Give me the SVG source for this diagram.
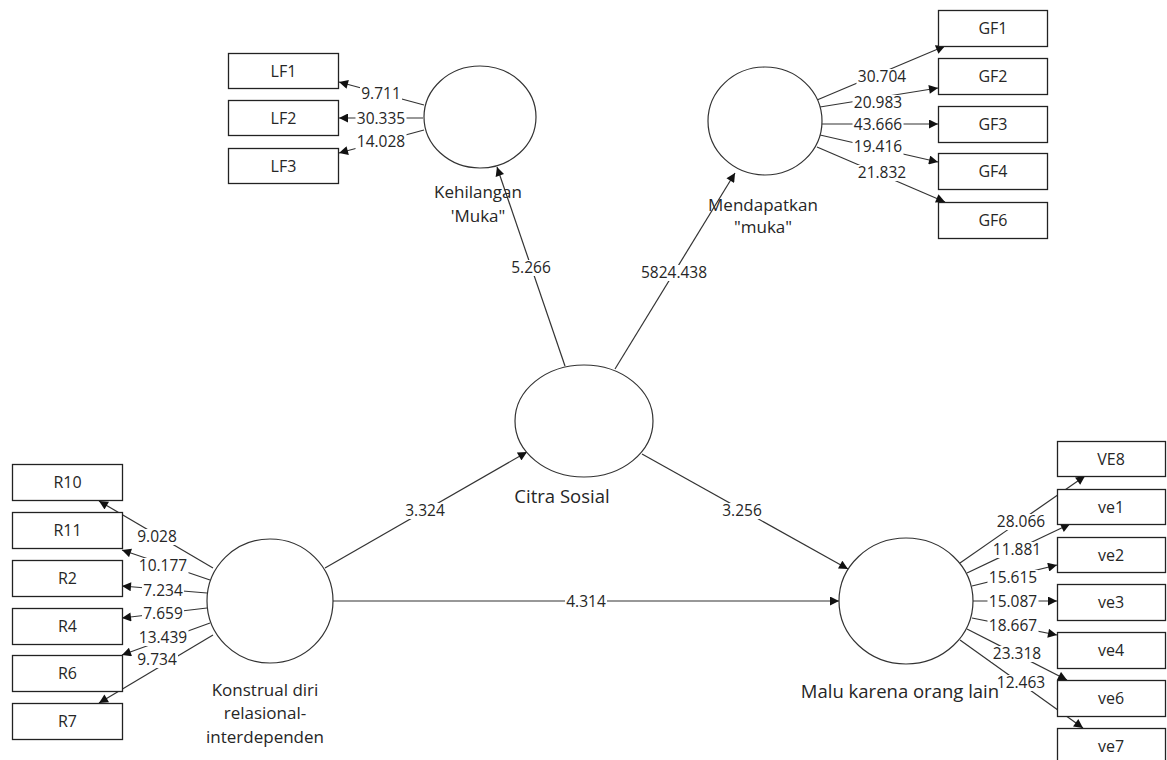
<svg xmlns="http://www.w3.org/2000/svg" width="1167" height="760" viewBox="0 0 1167 760">
<defs>
<marker id="ah" viewBox="0 0 10 10" refX="10" refY="5" markerWidth="10" markerHeight="9" markerUnits="userSpaceOnUse" orient="auto"><path d="M0,0 L10,5 L0,10 z" fill="#111"/></marker>
<style>
.lv{fill:#fff;stroke:#333;stroke-width:1.2}
.bx{fill:#fff;stroke:#222;stroke-width:1.3}
.bt{font-family:"Open Sans","Noto Sans",sans-serif;font-size:16px;fill:#262626;text-anchor:middle}
.nt{font-family:"Open Sans","Noto Sans",sans-serif;font-size:17px;fill:#262626;text-anchor:middle}
.nt2{font-family:"Open Sans","Noto Sans",sans-serif;font-size:18.5px;fill:#262626;text-anchor:middle}
.ln{stroke:#333;stroke-width:1.2;fill:none;marker-end:url(#ah)}
.lb{font-family:"Open Sans","Noto Sans",sans-serif;font-size:15.5px;fill:#262626;text-anchor:middle}
.bg{fill:#fff}
</style>
</defs>
<rect width="1167" height="760" fill="#fff"/>
<g id="connectors">
<line class="ln" x1="424" y1="105" x2="339" y2="82"/>
<line class="ln" x1="423" y1="118" x2="339" y2="118"/>
<line class="ln" x1="424" y1="130" x2="339" y2="153"/>
<line class="ln" x1="817" y1="100" x2="945" y2="46"/>
<line class="ln" x1="820" y1="107" x2="938" y2="88"/>
<line class="ln" x1="822" y1="124" x2="938" y2="124"/>
<line class="ln" x1="820" y1="135" x2="938" y2="162"/>
<line class="ln" x1="817" y1="147" x2="945" y2="202"/>
<line class="ln" x1="213" y1="568" x2="99" y2="501"/>
<line class="ln" x1="210" y1="580" x2="122" y2="550"/>
<line class="ln" x1="207" y1="593" x2="122" y2="586"/>
<line class="ln" x1="207" y1="608" x2="122" y2="618"/>
<line class="ln" x1="210" y1="623" x2="122" y2="655"/>
<line class="ln" x1="213" y1="635" x2="99" y2="703"/>
<line class="ln" x1="960" y1="563" x2="1085" y2="476"/>
<line class="ln" x1="967" y1="573" x2="1070" y2="524"/>
<line class="ln" x1="972" y1="586" x2="1057" y2="565"/>
<line class="ln" x1="973" y1="601" x2="1057" y2="601"/>
<line class="ln" x1="972" y1="618" x2="1057" y2="635"/>
<line class="ln" x1="967" y1="629" x2="1067" y2="680"/>
<line class="ln" x1="960" y1="640" x2="1083" y2="728"/>
<line class="ln" x1="565" y1="366" x2="497" y2="167"/>
<line class="ln" x1="615" y1="369" x2="735" y2="173"/>
<line class="ln" x1="325" y1="568" x2="527" y2="452"/>
<line class="ln" x1="642" y1="454" x2="848" y2="569"/>
<line class="ln" x1="333" y1="601" x2="839" y2="601"/>
<g id="label-backgrounds">
<rect class="bg" x="360" y="86" width="42" height="16"/>
<rect class="bg" x="355.5" y="111" width="51" height="16"/>
<rect class="bg" x="355.5" y="134" width="51" height="16"/>
<rect class="bg" x="856.5" y="69" width="51" height="16"/>
<rect class="bg" x="852.5" y="95" width="51" height="16"/>
<rect class="bg" x="852.5" y="117" width="51" height="16"/>
<rect class="bg" x="852.5" y="139" width="51" height="16"/>
<rect class="bg" x="856.5" y="165" width="51" height="16"/>
<rect class="bg" x="136" y="529" width="42" height="16"/>
<rect class="bg" x="137.5" y="558" width="51" height="16"/>
<rect class="bg" x="142" y="583" width="42" height="16"/>
<rect class="bg" x="142" y="606" width="42" height="16"/>
<rect class="bg" x="137.5" y="630" width="51" height="16"/>
<rect class="bg" x="136" y="652" width="42" height="16"/>
<rect class="bg" x="995.5" y="514" width="51" height="16"/>
<rect class="bg" x="991.5" y="542" width="51" height="16"/>
<rect class="bg" x="987.5" y="570" width="51" height="16"/>
<rect class="bg" x="987.5" y="594" width="51" height="16"/>
<rect class="bg" x="987.5" y="618" width="51" height="16"/>
<rect class="bg" x="991.5" y="646" width="51" height="16"/>
<rect class="bg" x="995.5" y="675" width="51" height="16"/>
<rect class="bg" x="510" y="260" width="42" height="16"/>
<rect class="bg" x="639.5" y="265" width="69" height="16"/>
<rect class="bg" x="404" y="503" width="42" height="16"/>
<rect class="bg" x="721" y="503" width="42" height="16"/>
<rect class="bg" x="565" y="594" width="42" height="16"/>
</g>
<text class="lb" x="381" y="99">9.711</text>
<text class="lb" x="381" y="124">30.335</text>
<text class="lb" x="381" y="147">14.028</text>
<text class="lb" x="882" y="82">30.704</text>
<text class="lb" x="878" y="108">20.983</text>
<text class="lb" x="878" y="130">43.666</text>
<text class="lb" x="878" y="152">19.416</text>
<text class="lb" x="882" y="178">21.832</text>
<text class="lb" x="157" y="542">9.028</text>
<text class="lb" x="163" y="571">10.177</text>
<text class="lb" x="163" y="596">7.234</text>
<text class="lb" x="163" y="619">7.659</text>
<text class="lb" x="163" y="643">13.439</text>
<text class="lb" x="157" y="665">9.734</text>
<text class="lb" x="1021" y="527">28.066</text>
<text class="lb" x="1017" y="555">11.881</text>
<text class="lb" x="1013" y="583">15.615</text>
<text class="lb" x="1013" y="607">15.087</text>
<text class="lb" x="1013" y="631">18.667</text>
<text class="lb" x="1017" y="659">23.318</text>
<text class="lb" x="1021" y="688">12.463</text>
<text class="lb" x="531" y="273">5.266</text>
<text class="lb" x="674" y="278">5824.438</text>
<text class="lb" x="425" y="516">3.324</text>
<text class="lb" x="742" y="516">3.256</text>
<text class="lb" x="586" y="607">4.314</text>
</g>
<g id="kehilangan"><ellipse class="lv" cx="480" cy="117" rx="56" ry="51"/><text class="nt" x="478" y="198">Kehilangan</text><text class="nt" x="478" y="222">'Muka"</text></g>
<g id="mendapatkan"><ellipse class="lv" cx="765" cy="121" rx="57" ry="54"/><text class="nt" x="763" y="211">Mendapatkan</text><text class="nt" x="763" y="233">"muka"</text></g>
<g id="citra"><ellipse class="lv" cx="584" cy="421" rx="69" ry="56"/><text class="nt2" x="562" y="503">Citra Sosial</text></g>
<g id="konstrual"><ellipse class="lv" cx="270" cy="601" rx="63" ry="62"/><text class="nt" x="265" y="696">Konstrual diri</text><text class="nt" x="265" y="719">relasional-</text><text class="nt" x="265" y="743">interdependen</text></g>
<g id="malu"><ellipse class="lv" cx="906" cy="601" rx="67" ry="63"/><text class="nt2" x="900" y="698">Malu karena orang lain</text></g>
<g id="LF1"><rect class="bx" x="228.5" y="53.5" width="110" height="35"/><text class="bt" x="283.5" y="77">LF1</text></g>
<g id="LF2"><rect class="bx" x="228.5" y="100.5" width="110" height="35"/><text class="bt" x="283.5" y="124">LF2</text></g>
<g id="LF3"><rect class="bx" x="228.5" y="148.5" width="110" height="35"/><text class="bt" x="283.5" y="172">LF3</text></g>
<g id="GF1"><rect class="bx" x="938.5" y="10.5" width="109" height="36"/><text class="bt" x="993" y="34">GF1</text></g>
<g id="GF2"><rect class="bx" x="938.5" y="58.5" width="109" height="36"/><text class="bt" x="993" y="82">GF2</text></g>
<g id="GF3"><rect class="bx" x="938.5" y="106.5" width="109" height="36"/><text class="bt" x="993" y="130">GF3</text></g>
<g id="GF4"><rect class="bx" x="938.5" y="153.5" width="109" height="36"/><text class="bt" x="993" y="177">GF4</text></g>
<g id="GF6"><rect class="bx" x="938.5" y="202.5" width="109" height="36"/><text class="bt" x="993" y="226">GF6</text></g>
<g id="R10"><rect class="bx" x="12.5" y="464.5" width="110" height="36"/><text class="bt" x="67.5" y="488">R10</text></g>
<g id="R11"><rect class="bx" x="12.5" y="512.5" width="110" height="36"/><text class="bt" x="67.5" y="536">R11</text></g>
<g id="R2"><rect class="bx" x="12.5" y="560.5" width="110" height="36"/><text class="bt" x="67.5" y="584">R2</text></g>
<g id="R4"><rect class="bx" x="12.5" y="608.5" width="110" height="36"/><text class="bt" x="67.5" y="632">R4</text></g>
<g id="R6"><rect class="bx" x="12.5" y="655.5" width="110" height="36"/><text class="bt" x="67.5" y="679">R6</text></g>
<g id="R7"><rect class="bx" x="12.5" y="703.5" width="110" height="36"/><text class="bt" x="67.5" y="727">R7</text></g>
<g id="VE8"><rect class="bx" x="1057.5" y="441.5" width="108" height="35"/><text class="bt" x="1111" y="465">VE8</text></g>
<g id="ve1"><rect class="bx" x="1057.5" y="489.5" width="108" height="35"/><text class="bt" x="1111" y="513">ve1</text></g>
<g id="ve2"><rect class="bx" x="1057.5" y="537.5" width="108" height="35"/><text class="bt" x="1111" y="561">ve2</text></g>
<g id="ve3"><rect class="bx" x="1057.5" y="584.5" width="108" height="36"/><text class="bt" x="1111" y="608">ve3</text></g>
<g id="ve4"><rect class="bx" x="1057.5" y="632.5" width="108" height="36"/><text class="bt" x="1111" y="656">ve4</text></g>
<g id="ve6"><rect class="bx" x="1057.5" y="680.5" width="108" height="36"/><text class="bt" x="1111" y="704">ve6</text></g>
<g id="ve7"><rect class="bx" x="1057.5" y="728.5" width="108" height="36"/><text class="bt" x="1111" y="752">ve7</text></g>
</svg>
